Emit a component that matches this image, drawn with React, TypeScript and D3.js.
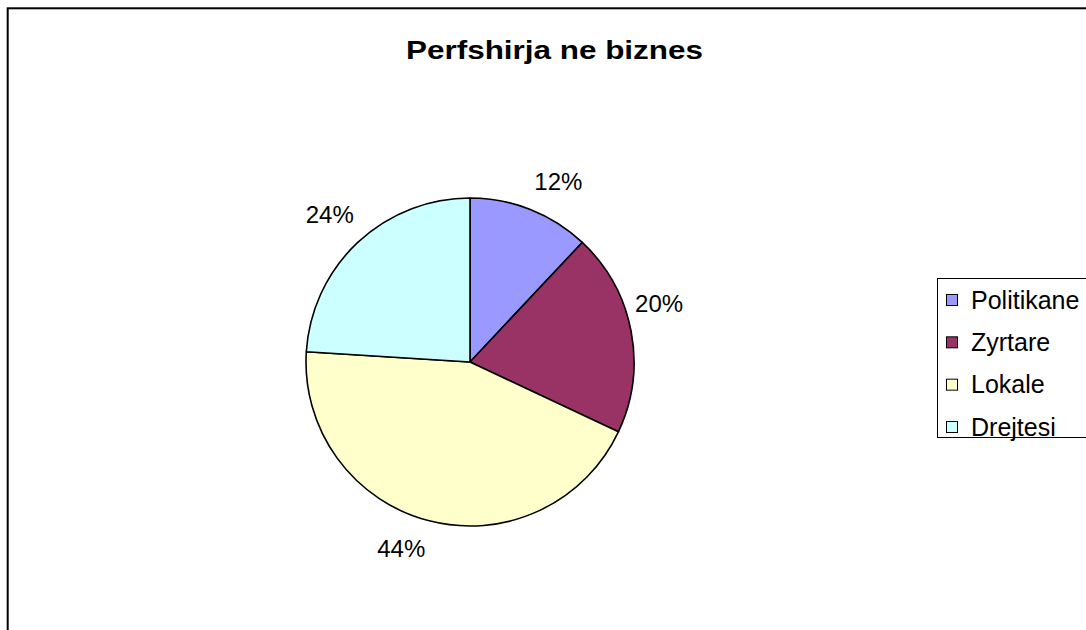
import * as React from "react";
import * as d3 from "d3";

const categories = ["Politikane", "Zyrtare", "Lokale", "Drejtesi"];
const shares = [12, 20, 44, 24];
const colors = ["#9999FF", "#993366", "#FFFFCC", "#CCFFFF"];
const titleText = "Perfshirja ne biznes";

const W = 1086;
const H = 630;
const cx = 470;
const cy = 362;
const radius = 164;

export default function App() {
  const pie = d3
    .pie<number>()
    .sort(null)
    .value(d => d)(shares);
  const arc = d3.arc<d3.PieArcDatum<number>>().innerRadius(0).outerRadius(radius);
  const total = d3.sum(shares);

  // legend rows
  const legendY = d3
    .scalePoint<string>()
    .domain(categories)
    .range([300, 427]);

  return (
    <svg
      width={W}
      height={H}
      style={{ position: "absolute", left: 0, top: 0, display: "block", background: "#fff" }}
      fontFamily="'Liberation Sans', Arial, sans-serif"
    >
      <rect x={7.7} y={8.3} width={1200} height={800} fill="#fff" stroke="#000" strokeWidth={2} />
      <text
        x={554.5}
        y={59.3}
        textAnchor="middle"
        fontSize={25}
        fontWeight="bold"
        textLength={297}
        lengthAdjust="spacingAndGlyphs"
      >
        {titleText}
      </text>

      <g transform={`translate(${cx},${cy})`}>
        {pie.map((d, i) => (
          <path
            key={categories[i]}
            d={arc(d) as string}
            fill={colors[i]}
            stroke="#000"
            strokeWidth={1.6}
            strokeLinejoin="round"
          />
        ))}
        {pie.map((d, i) => {
          const a = (d.startAngle + d.endAngle) / 2;
          const px = Math.sin(a) * radius;
          const py = -Math.cos(a) * radius;
          const lx = px + 28 * Math.sign(Math.sin(a));
          const ly = py - 28 * Math.sign(Math.cos(a));
          return (
            <text key={"l" + i} x={lx} y={ly + 8.5} textAnchor="middle" fontSize={24}>
              {Math.round((d.value / total) * 100)}%
            </text>
          );
        })}
      </g>

      <g>
        <rect x={937.5} y={278.5} width={200} height={159} fill="#fff" stroke="#000" strokeWidth={1} />
        {categories.map((c, i) => {
          const y = legendY(c) as number;
          return (
            <g key={c}>
              <rect x={946.5} y={y - 5.5} width={11} height={11} fill={colors[i]} stroke="#000" strokeWidth={1} />
              <text x={971} y={y + 8.5} fontSize={25}>
                {c}
              </text>
            </g>
          );
        })}
      </g>
    </svg>
  );
}
